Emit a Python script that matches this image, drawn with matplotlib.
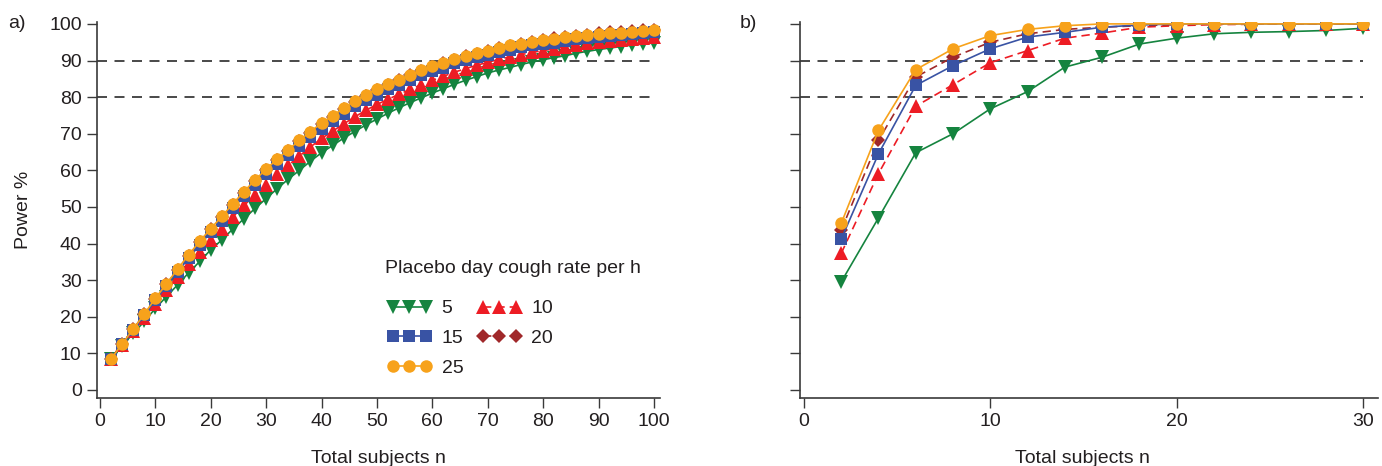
import matplotlib.pyplot as plt

plt.rcParams['font.family'] = ['Liberation Sans', 'DejaVu Sans']

# panel a: n = 2, 4, ..., 100
n_a = list(range(2, 101, 2))
pow_a_5 = [8.5, 12.0, 15.5, 18.7, 22.3, 25.5, 28.7, 32.0, 35.1, 38.3,
           41.0, 44.0, 46.8, 49.6, 52.3, 55.0, 57.6, 60.0, 62.5, 64.8,
           66.8, 68.8, 70.6, 72.4, 74.0, 75.6, 77.1, 78.5, 79.8, 81.1,
           82.3, 83.5, 84.6, 85.6, 86.6, 87.4, 88.1, 88.9, 89.6, 90.2,
           90.8, 91.3, 92.0, 92.5, 93.0, 93.4, 93.8, 94.2, 94.5, 94.8]
pow_a_10 = [8.5, 12.3, 16.0, 19.7, 23.6, 27.2, 30.8, 34.4, 37.7, 41.1,
            44.1, 47.3, 50.4, 53.3, 56.1, 58.9, 61.4, 63.9, 66.4, 68.7,
            70.7, 72.7, 74.6, 76.4, 78.0, 79.4, 80.8, 82.1, 83.4, 84.6,
            85.7, 86.8, 87.8, 88.7, 89.5, 90.3, 91.0, 91.6, 92.2, 92.7,
            93.2, 93.7, 94.2, 94.7, 95.1, 95.3, 95.6, 95.9, 96.2, 96.5]
pow_a_15 = [8.5, 12.5, 16.4, 20.4, 24.5, 28.4, 32.2, 36.0, 39.6, 43.1,
            46.2, 49.7, 52.9, 56.0, 58.9, 61.6, 64.2, 66.7, 69.1, 71.4,
            73.4, 75.5, 77.5, 79.2, 80.7, 82.2, 83.4, 84.7, 86.0, 87.1,
            88.0, 89.2, 90.1, 90.9, 91.6, 92.4, 93.0, 93.6, 94.1, 94.5,
            94.9, 95.4, 95.8, 96.2, 96.5, 96.7, 96.9, 97.2, 97.5, 97.8]
pow_a_20 = [8.5, 12.6, 16.6, 20.7, 24.9, 28.9, 32.8, 36.7, 40.4, 43.9,
            47.2, 50.6, 53.9, 57.1, 60.0, 62.8, 65.4, 67.9, 70.3, 72.6,
            74.7, 76.8, 78.7, 80.4, 82.0, 83.4, 84.8, 86.0, 87.1, 88.2,
            89.2, 90.2, 91.1, 91.9, 92.6, 93.4, 94.0, 94.6, 95.1, 95.5,
            96.1, 96.3, 96.7, 97.0, 97.4, 97.7, 97.8, 98.1, 98.3, 98.4]
pow_a_25 = [8.5, 12.6, 16.6, 20.8, 25.0, 29.0, 33.0, 36.9, 40.6, 44.1,
            47.4, 50.9, 54.2, 57.4, 60.3, 63.1, 65.6, 68.2, 70.6, 72.9,
            74.9, 77.0, 79.0, 80.7, 82.2, 83.6, 84.8, 86.1, 87.3, 88.4,
            89.3, 90.4, 91.3, 92.1, 92.7, 93.5, 94.1, 94.6, 95.1, 95.5,
            95.8, 96.3, 96.6, 97.0, 97.3, 97.4, 97.6, 97.8, 98.1, 98.4]

# panel b: n = 2, 4, ..., 30
n_b = list(range(2, 31, 2))
pow_b_5 = [29.5, 47.0, 64.8, 70.0, 76.8, 81.5, 88.2, 90.9, 94.5, 96.1,
           97.3, 97.7, 97.9, 98.2, 98.8]
pow_b_10 = [37.3, 59.1, 77.5, 83.4, 89.4, 92.7, 96.1, 97.5, 99.1, 99.5,
            99.8, 99.9, 100.0, 100.0, 100.0]
pow_b_15 = [41.2, 64.5, 83.2, 88.6, 93.2, 96.4, 97.7, 99.1, 99.7, 100.0,
            100.0, 100.0, 100.0, 100.0, 100.0]
pow_b_20 = [43.6, 68.2, 85.5, 90.9, 95.0, 97.3, 98.5, 99.1, 99.5, 99.8,
            100.0, 100.0, 100.0, 100.0, 100.0]
pow_b_25 = [45.5, 70.9, 87.5, 93.2, 96.8, 98.5, 99.5, 100.0, 100.0, 100.0,
            100.0, 100.0, 100.0, 100.0, 100.0]

colors = {'5': '#15843f', '10': '#ed1c24', '15': '#3953a4',
          '20': '#a0282a', '25': '#f7a21b'}
markers = {'5': 'v', '10': '^', '15': 's', '20': 'D', '25': 'o'}
msizes = {'5': 10, '10': 10, '15': 8.5, '20': 7, '25': 9}
styles = {'5': '-', '10': (0, (5, 3)), '15': '-', '20': (0, (5, 3)), '25': '-'}
draw_order = ['5', '10', '20', '15', '25']

data_a = {'5': pow_a_5, '10': pow_a_10, '15': pow_a_15, '20': pow_a_20, '25': pow_a_25}
data_b = {'5': pow_b_5, '10': pow_b_10, '15': pow_b_15, '20': pow_b_20, '25': pow_b_25}

W, H = 1382, 466
FS = 14
fig = plt.figure(figsize=(W / 100, H / 100), dpi=100)
ax_a = fig.add_axes([97 / W, 68 / H, 563 / W, 376.3 / H])
ax_b = fig.add_axes([800 / W, 68 / H, 578 / W, 376.3 / H])

text_col = '#231f20'
spine_col = '#3a3a3a'


def style_axes(ax, xticks, ylabels):
    for s in ['top', 'right']:
        ax.spines[s].set_visible(False)
    for s in ['left', 'bottom']:
        ax.spines[s].set_color(spine_col)
        ax.spines[s].set_linewidth(1.2)
    ax.set_xticks(xticks)
    ax.set_yticks(range(0, 101, 10))
    ax.tick_params(direction='out', length=7, width=1.0, color=spine_col,
                   labelsize=FS, labelcolor=text_col, pad=4)
    if not ylabels:
        ax.tick_params(axis='y', labelleft=False)
    ax.set_ylim(-2.2, 100.6)


def draw(ax, xs, data, x_end):
    handles = {}
    for r in draw_order:
        h, = ax.plot(xs, data[r], color=colors[r], marker=markers[r],
                     markersize=msizes[r], markeredgewidth=0, lw=1.2,
                     linestyle=styles[r], label=r)
        handles[r] = h
    for y in (80, 90):
        ax.hlines(y, ax.get_xlim()[0], x_end, colors='#2a2a2a', lw=1.2,
                  linestyles=(0, (6, 4.5)), zorder=1)
    return handles


ax_a.set_xlim(-0.54, 101.1)
ax_b.set_xlim(-0.21, 30.8)
style_axes(ax_a, range(0, 101, 10), True)
style_axes(ax_b, range(0, 31, 10), False)

h = draw(ax_a, n_a, data_a, 100)
draw(ax_b, n_b, data_b, 30)

ax_a.set_ylabel('Power %', fontsize=FS, color=text_col)
ax_a.yaxis.set_label_coords(-0.115, 0.5)
for ax in (ax_a, ax_b):
    ax.set_xlabel('Total subjects n', fontsize=FS, color=text_col)
ax_a.xaxis.set_label_coords(0.5, -0.138)
ax_b.xaxis.set_label_coords(0.488, -0.138)

ax_a.text(0.5115, 0.345, 'Placebo day cough rate per h', transform=ax_a.transAxes,
          fontsize=FS, color=text_col, ha='left', va='center')
leg = ax_a.legend(handles=[h['5'], h['15'], h['25'], h['10'], h['20']],
                  ncol=2, loc='upper left', bbox_to_anchor=(0.498, 0.287),
                  frameon=False, fontsize=FS, numpoints=3,
                  handlelength=2.3, handletextpad=0.5, columnspacing=0.7,
                  labelspacing=0.62, borderpad=0)
for t in leg.get_texts():
    t.set_color(text_col)

fig.text(8 / W, 1 - 24 / H, 'a)', fontsize=FS, color=text_col, va='center')
fig.text(740 / W, 1 - 24 / H, 'b)', fontsize=FS, color=text_col, va='center')

fig.savefig('out.png', dpi=100)
